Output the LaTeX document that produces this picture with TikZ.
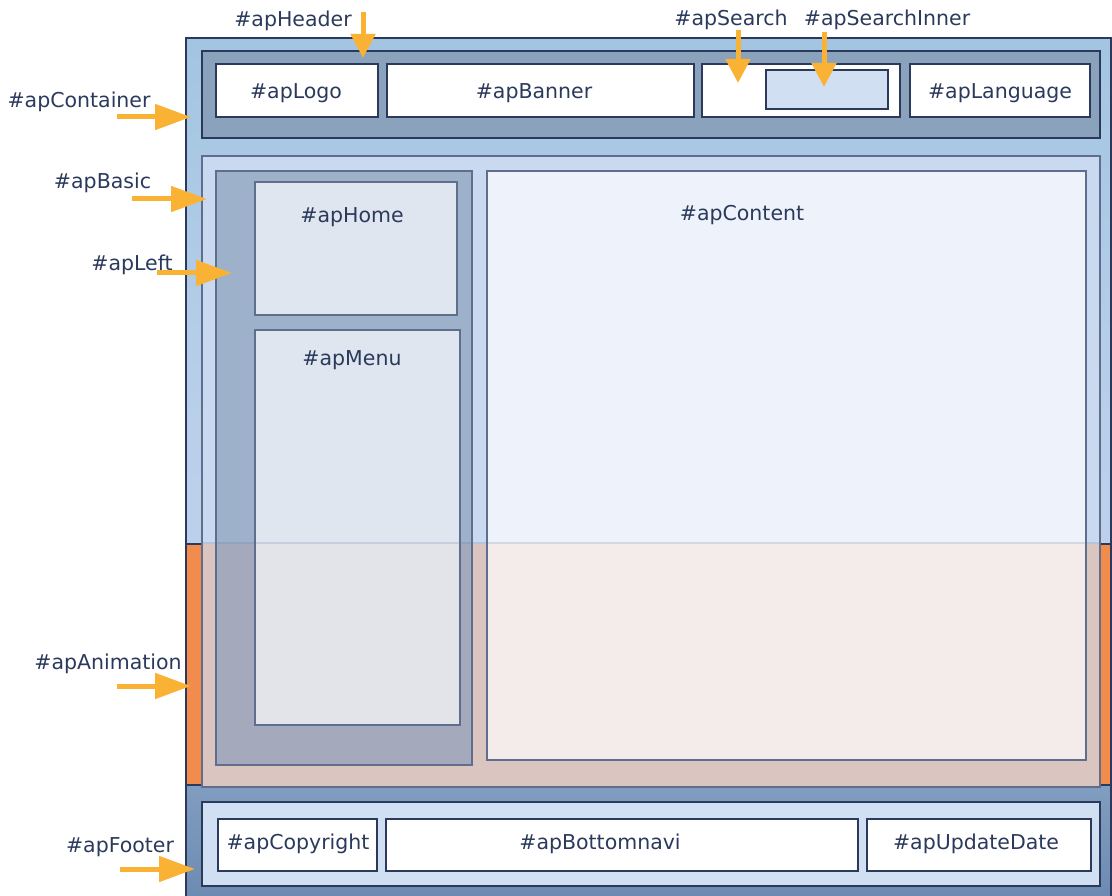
\documentclass[tikz,border=0pt]{standalone}
\usepackage{fontspec}
\setmainfont{DejaVu Sans}
\usetikzlibrary{arrows.meta}

\definecolor{ink}{HTML}{2B3A5C}
\definecolor{softink}{HTML}{5E6E8C}
\definecolor{pointerc}{HTML}{F9B233}
\definecolor{contTop}{HTML}{A3C5E1}
\definecolor{contBot}{HTML}{C2D3EE}
\definecolor{footTop}{HTML}{819DC0}
\definecolor{footBot}{HTML}{6D8BB2}
\definecolor{animc}{HTML}{F28C4C}
\definecolor{headc}{HTML}{8BA2BD}
\definecolor{basicTop}{HTML}{C9DAF0}
\definecolor{basicBot}{HTML}{DBC5C0}
\definecolor{leftTop}{HTML}{9DB1CB}
\definecolor{leftBot}{HTML}{A4AABB}
\definecolor{paneTop}{HTML}{DFE6F0}
\definecolor{paneBot}{HTML}{E2E4EA}
\definecolor{contentTop}{HTML}{EEF3FB}
\definecolor{contentBot}{HTML}{F4ECEA}
\definecolor{innerc}{HTML}{D0DFF2}
\definecolor{footInner}{HTML}{D0E0F2}

% rectangle node spanning (x1,y1)-(x2,y2): name, x1, y1, x2, y2, style
\newcommand\areabox[6]{%
  \node[#6, minimum width={(#4-#2)*1pt}, minimum height={(#5-#3)*1pt}]
    (#1) at ({(#2+#4)/2},{(#3+#5)/2}) {};}
% fill split at the animation band's top edge (y = 544)
\newcommand\twotone[6]{%
  \fill[#5] (#1,#2) rectangle (#3,544);
  \fill[#6] (#1,544) rectangle (#3,#4);}

\begin{document}
\begin{tikzpicture}[x=1pt,y=-1pt,
  lbl/.style={text=ink, font=\fontsize{20.5}{23}\selectfont, inner sep=0pt, anchor=base},
  framed/.style={draw=ink, line width=2pt, inner sep=0pt},
  soft/.style={draw=softink, line width=2pt, inner sep=0pt},
  hpointer/.style={draw=pointerc, line width=5pt, -{Triangle[length=36pt,width=25pt]}},
  vpointer/.style={draw=pointerc, line width=5pt, -{Triangle[length=24pt,width=24pt]}},
]
\useasboundingbox (0,0) rectangle (1112,896);

% page container and footer band
\shade[top color=contTop, bottom color=contBot, middle color=contBot!70!contTop] (186,38) rectangle (1111,785);
\shade[top color=footTop, bottom color=footBot] (186,785) rectangle (1111,896);
\areabox{anim}{186}{544}{1111}{785}{framed, fill=animc}
\draw[ink, line width=2pt] (186,897) -- (186,38) -- (1111,38) -- (1111,897);
\draw[ink, line width=2pt] (186,785) -- (1111,785);

% header
\areabox{header}{202}{51}{1100}{138}{framed, fill=headc, line width=2.5pt}
\areabox{logo}{216}{64}{378}{117}{framed, fill=white}
\areabox{banner}{387}{64}{694}{117}{framed, fill=white}
\areabox{search}{702}{64}{900}{117}{framed, fill=white}
\areabox{searchinner}{766}{70}{888}{109}{framed, fill=innerc}
\areabox{language}{910}{64}{1090}{117}{framed, fill=white}

% main area
\twotone{202}{156}{1100}{787}{basicTop}{basicBot}
\areabox{basic}{202}{156}{1100}{787}{soft}
\twotone{216}{171}{472}{765}{leftTop}{leftBot}
\areabox{left}{216}{171}{472}{765}{soft}
\areabox{home}{255}{182}{457}{315}{soft, fill=paneTop}
\twotone{255}{330}{460}{725}{paneTop}{paneBot}
\areabox{menu}{255}{330}{460}{725}{soft}
\twotone{487}{171}{1086}{760}{contentTop}{contentBot}
\areabox{content}{487}{171}{1086}{760}{soft}
\draw[softink, opacity=0.2, line width=2pt] (basic.west |- anim.north) -- (basic.east |- anim.north);

% footer contents
\areabox{footer}{202}{802}{1100}{886}{framed, fill=footInner}
\areabox{copyright}{218}{819}{377}{871}{framed, fill=white}
\areabox{bottomnavi}{386}{819}{858}{871}{framed, fill=white}
\areabox{updatedate}{867}{819}{1091}{871}{framed, fill=white}

% box captions
\node[lbl] (tLogo) at (296,99) {\#apLogo};
\node[lbl] (tBanner) at (534,99) {\#apBanner};
\node[lbl] (tLanguage) at (1000,99) {\#apLanguage};
\node[lbl] (tHome) at (352,223) {\#apHome};
\node[lbl] (tMenu) at (352,366) {\#apMenu};
\node[lbl] (tContent) at (742,221) {\#apContent};
\node[lbl] (tCopyright) at (298,849) {\#apCopyright};
\node[lbl] (tBottomnavi) at (600,849) {\#apBottomnavi};
\node[lbl] (tUpdate) at (976,849) {\#apUpdateDate};

% outside labels
\node[lbl] (lHeader) at (293,27) {\#apHeader};
\node[lbl] (lSearch) at (731,26) {\#apSearch};
\node[lbl] (lSearchInner) at (887,26) {\#apSearchInner};
\node[lbl] (lContainer) at (79,108) {\#apContainer};
\node[lbl] (lBasic) at (102.5,189) {\#apBasic};
\node[lbl] (lLeft) at (132,271) {\#apLeft};
\node[lbl] (lAnimation) at (108,669) {\#apAnimation};
\node[lbl] (lFooter) at (120,852) {\#apFooter};

% pointer ends
\coordinate (pHeaderS) at (363,12);   \coordinate (pHeaderE) at (363,58);
\coordinate (pSearchS) at (738,30);   \coordinate (pSearchE) at (738,83);
\coordinate (pInnerS) at (824,32);    \coordinate (pInnerE) at (824,87);
\coordinate (pContS) at (117,117);    \coordinate (pContE) at (191,117);
\coordinate (pBasicS) at (132,199);   \coordinate (pBasicE) at (207,199);
\coordinate (pLeftS) at (157,273);    \coordinate (pLeftE) at (232,273);
\coordinate (pAnimS) at (117,686);    \coordinate (pAnimE) at (191,686);
\coordinate (pFootS) at (120,869);    \coordinate (pFootE) at (195,869);

\draw[vpointer] (pHeaderS) -- (pHeaderE);
\draw[vpointer] (pSearchS) -- (pSearchE);
\draw[vpointer] (pInnerS) -- (pInnerE);
\draw[hpointer] (pContS) -- (pContE);
\draw[hpointer] (pBasicS) -- (pBasicE);
\draw[hpointer] (pLeftS) -- (pLeftE);
\draw[hpointer] (pAnimS) -- (pAnimE);
\draw[hpointer] (pFootS) -- (pFootE);
\end{tikzpicture}
\end{document}
